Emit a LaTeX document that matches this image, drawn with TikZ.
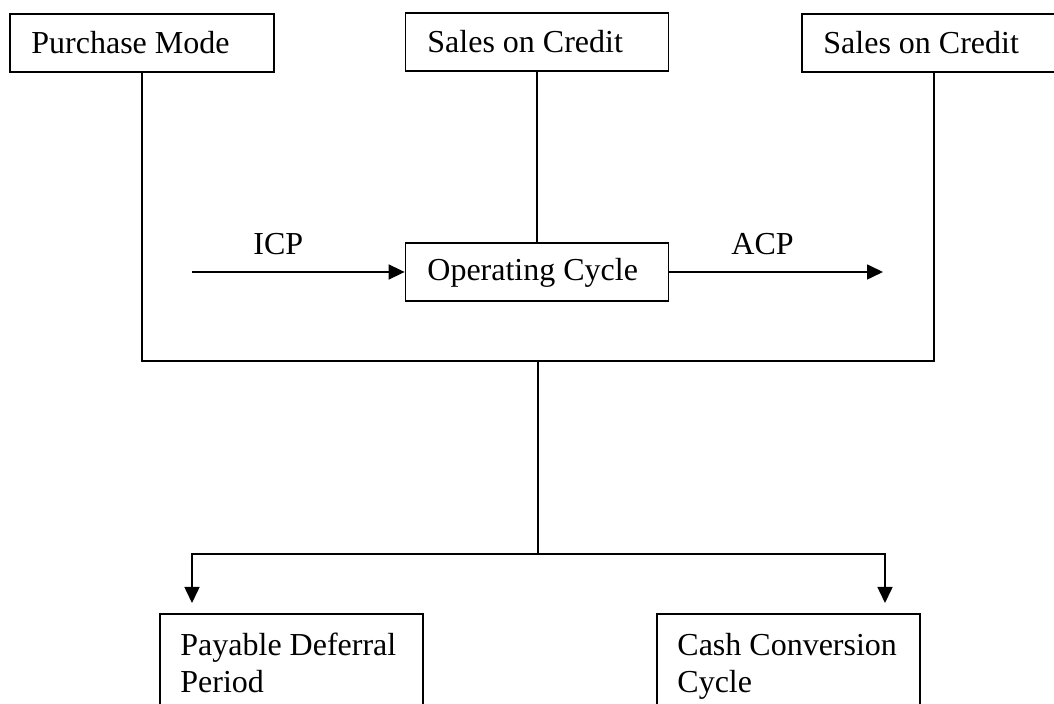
\documentclass[tikz,border=0pt]{standalone}
\usepackage{fontspec}
\setmainfont{Liberation Serif}
\usetikzlibrary{arrows.meta}
\begin{document}
\begin{tikzpicture}[x=0.5pt,y=-0.5pt,
  box/.style={draw,line width=0.9pt,rectangle,inner sep=0pt},
  txt/.style={inner sep=0pt,font=\fontsize{16pt}{18.5pt}\selectfont},
  conn/.style={line width=0.8pt},
  arr/.style={line width=0.8pt,-{Triangle[length=8pt,width=7.5pt]}}]
\useasboundingbox (0,0) rectangle (1054,704);
\clip (0,0) rectangle (1054,704);
% boxes
\node[box,minimum width=132pt,minimum height=29pt] (pm) at (142,43) {};
\node[box,minimum width=131.5pt,minimum height=29pt] (soc1) at (537,42) {};
\node[box,minimum width=132pt,minimum height=29pt] (soc2) at (934,43) {};
\node[box,minimum width=131.5pt,minimum height=29pt] (op) at (537,272) {};
\node[box,minimum width=131.5pt,minimum height=53pt] (pdp) at (291.5,667) {};
\node[box,minimum width=131.5pt,minimum height=53pt] (ccc) at (788.5,667) {};
% texts
\node[txt,anchor=base west] (tpm) at (31,54) {Purchase Mode};
\node[txt,anchor=base west] (tsoc1) at (427,53) {Sales on Credit};
\node[txt,anchor=base west] (tsoc2) at (823,54) {Sales on Credit};
\node[txt,anchor=base west] (top) at (427,281) {Operating Cycle};
\node[txt,anchor=base west] (ticp) at (253,255) {ICP};
\node[txt,anchor=base west] (tacp) at (731,255) {ACP};
\node[txt,anchor=base west] (tpdp1) at (180,655) {Payable Deferral};
\node[txt,anchor=base west] (tpdp2) at (180,692) {Period};
\node[txt,anchor=base west] (tccc1) at (677,655) {Cash Conversion};
\node[txt,anchor=base west] (tccc2) at (677,692) {Cycle};
% coordinates
\coordinate (bus) at (538,361);
\coordinate (split) at (538,554);
\coordinate (icpstart) at (192,272);
\coordinate (acpend) at (883,272);
\coordinate (tipL) at (192,603);
\coordinate (tipR) at (885,603);
% connectors
\draw[conn] (pm.south) |- (bus) -| (soc2.south);
\draw[conn] (soc1.south) -- (op.north);
\draw[arr] (icpstart) -- (op.west);
\draw[arr] (op.east) -- (acpend);
\draw[conn] (bus) -- (split);
\draw[arr] (split) -| (tipL);
\draw[arr] (split) -| (tipR);
\end{tikzpicture}
\end{document}
